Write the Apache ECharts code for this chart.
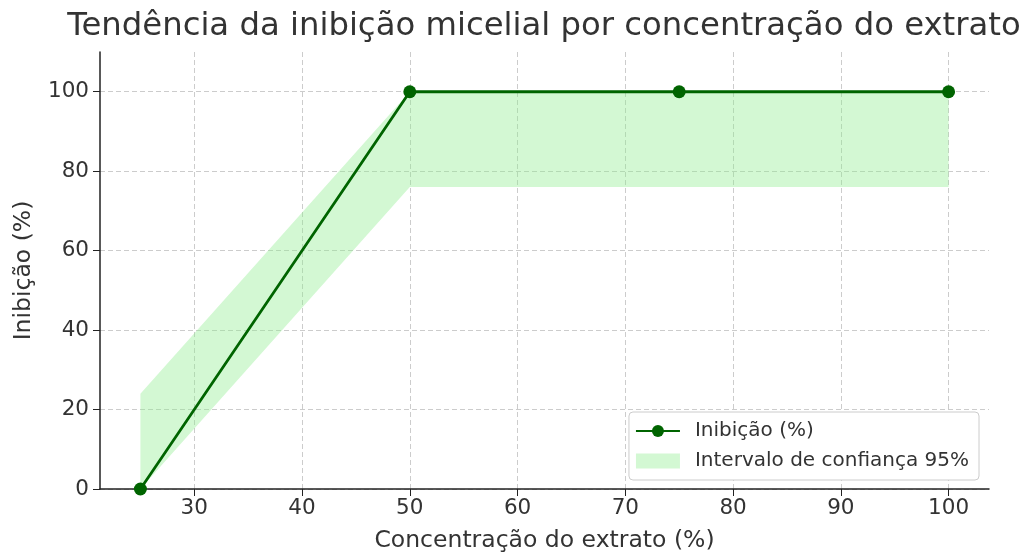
<!DOCTYPE html>
<html><head><meta charset="utf-8">
<script src="https://cdn.jsdelivr.net/npm/echarts@6/dist/echarts.min.js"></script>
<style>html,body{margin:0;padding:0;background:#fff}#c{width:1024px;height:552px}</style>
</head><body><div id="c"></div>
<script>
const concentrations = [25, 50, 75, 100];
const inhibition = [0, 100, 100, 100];
const ciLower = [0, 76, 76, 76];
const ciUpper = [24, 100, 100, 100];
const xTicks = [30, 40, 50, 60, 70, 80, 90, 100];

const font = 'DejaVu Sans';
const chart = echarts.init(document.getElementById('c'));
const bandColor = 'rgba(144,238,144,0.4)';
chart.setOption({
  animation: false,
  textStyle: {fontFamily: font},
  title: {text: 'Tendência da inibição micelial por concentração do extrato', left: 539, top: 6, textAlign: 'center',
    textStyle: {fontFamily: font, fontSize: 32.3, fontWeight: 'normal', color: '#333'}},
  grid: {left: 100, right: 35, top: 52, bottom: 63, outerBoundsMode: 'none', containLabel: false},
  legend: {
    right: 45, bottom: 72, orient: 'vertical', itemGap: 10, itemWidth: 44, itemHeight: 15,
    backgroundColor: '#fff', borderColor: '#ccc', borderWidth: 1, borderRadius: 4, padding: [9, 10, 9, 6],
    textStyle: {fontFamily: font, fontSize: 20, color: '#333', padding: [0, 0, 0, 10]},
    data: [{name: 'Inibição (%)'}, {name: 'Intervalo de confiança 95%', icon: 'rect', itemStyle: {color: bandColor}}]
  },
  xAxis: {
    type: 'value', min: 21.25, max: 103.75,
    name: 'Concentração do extrato (%)', nameLocation: 'middle', nameGap: 40,
    nameTextStyle: {fontFamily: font, fontSize: 23.5, color: '#333'},
    axisLine: {lineStyle: {color: '#222', width: 1.5}},
    axisTick: {show: true, length: 7, customValues: xTicks, lineStyle: {color: '#222'}},
    axisLabel: {customValues: xTicks, fontFamily: font, fontSize: 21.5, color: '#333', margin: 8},
    splitLine: {show: true, lineStyle: {color: '#ccc', type: [5, 3]}}
  },
  yAxis: {
    type: 'value', min: 0, max: 110, interval: 20,
    name: 'Inibição (%)', nameLocation: 'middle', nameGap: 64, nameRotate: 90,
    nameTextStyle: {fontFamily: font, fontSize: 23.5, color: '#333'},
    axisLine: {show: true, lineStyle: {color: '#222', width: 1.5}},
    axisTick: {show: true, length: 7, lineStyle: {color: '#222'}},
    axisLabel: {fontFamily: font, fontSize: 21.5, color: '#333', margin: 11, showMaxLabel: false,
      formatter: v => (v > 100 ? '' : v)},
    splitLine: {show: true, showMaxLine: false, lineStyle: {color: '#ccc', type: [5, 3]}}
  },
  series: [
    {name: 'Intervalo de confiança 95%', type: 'custom', z: 1,
      itemStyle: {color: bandColor},
      data: concentrations.map((x, i) => [x, ciLower[i], ciUpper[i]]),
      renderItem: function (params, api) {
        if (params.dataIndex !== 0) return null;
        const pts = [];
        for (let i = 0; i < concentrations.length; i++) pts.push(api.coord([concentrations[i], ciUpper[i]]));
        for (let i = concentrations.length - 1; i >= 0; i--) pts.push(api.coord([concentrations[i], ciLower[i]]));
        return {type: 'polygon', shape: {points: pts}, style: {fill: bandColor}};
      }
    },
    {name: 'Inibição (%)', type: 'line', symbol: 'circle', symbolSize: 13, z: 3,
      itemStyle: {color: '#006400'}, lineStyle: {color: '#006400', width: 2.8},
      data: concentrations.map((x, i) => [x, inhibition[i]])}
  ]
});
</script></body></html>
